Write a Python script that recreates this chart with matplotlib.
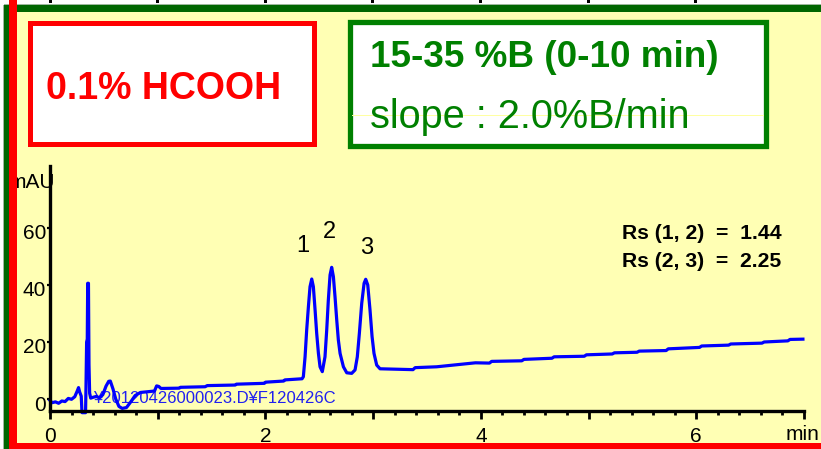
import matplotlib
matplotlib.use("Agg")
import numpy as np
import matplotlib.pyplot as plt
from matplotlib.patches import Rectangle
from matplotlib.lines import Line2D
from matplotlib.ticker import FixedLocator, MultipleLocator, FuncFormatter
import matplotlib.transforms as mtransforms

plt.rcParams['font.family'] = ['Liberation Sans', 'DejaVu Sans']

# ---- chromatogram (time in min, absorbance in mAU) ----
time_min = [
    0.00, 0.02, 0.05, 0.08, 0.11, 0.14, 0.17, 0.20, 0.23, 0.255, 0.265, 0.275,
    0.290, 0.297, 0.330, 0.334, 0.340, 0.346, 0.350, 0.357, 0.362, 0.368, 0.378,
    0.40, 0.43, 0.46, 0.49, 0.52, 0.545, 0.56, 0.585, 0.61, 0.64, 0.67, 0.71,
    0.75, 0.79, 0.84, 0.92, 0.97, 0.99, 1.01, 1.03, 1.20, 1.21, 1.44, 1.46,
    1.72, 1.73, 1.99, 2.00, 2.17, 2.18, 2.34,
    2.352, 2.368, 2.383, 2.399, 2.414, 2.430, 2.445, 2.461, 2.476, 2.492, 2.507,
    2.528, 2.553, 2.569, 2.584, 2.600, 2.615, 2.631, 2.646, 2.662, 2.677, 2.693,
    2.724, 2.755, 2.801, 2.832, 2.853, 2.872, 2.894, 2.916, 2.931, 2.950, 2.971,
    2.990, 3.008, 3.033, 3.064,
    3.37, 3.39, 3.59, 3.95, 4.08, 4.10, 4.38, 4.40, 4.66, 4.68, 4.96, 4.98,
    5.22, 5.24, 5.45, 5.47, 5.72, 5.74, 6.03, 6.05, 6.30, 6.32, 6.61, 6.63,
    6.85, 6.87, 6.99,
]
signal_mau = [
    -0.5, -1.3, -1.0, -1.5, -0.7, -0.9, 0.2, -0.1, 0.8, 3.0, 4.0, 2.5,
    1.0, -4.8, -4.8, 4.0, 20.0, 21.0, 40.6, 40.6, 12.0, 2.0, 0.3,
    0.6, 0.9, 0.4, 1.5, 4.5, 6.2, 6.3, 3.5, 0.0, -2.6, -3.3, -3.0,
    -1.0, 1.2, 2.3, 2.6, 2.8, 4.6, 4.4, 3.7, 3.8, 4.1, 4.3, 4.7,
    4.9, 5.2, 5.5, 5.9, 6.3, 6.7, 7.1,
    7.8, 14.8, 24.2, 32.4, 39.4, 42.1, 39.4, 31.2, 23.0, 16.0, 11.3,
    9.6, 14.8, 24.2, 34.7, 43.5, 46.2, 42.9, 35.9, 27.7, 20.7, 16.0,
    11.3, 9.2, 9.0, 10.2, 14.8, 23.0, 33.6, 40.6, 42.0, 40.0, 31.2,
    21.9, 16.0, 11.9, 10.6,
    10.3, 11.0, 11.3, 12.7, 12.6, 13.2, 13.4, 13.9, 14.3, 14.8, 15.0, 15.5,
    15.8, 16.2, 16.4, 16.8, 17.0, 17.6, 18.1, 18.6, 18.9, 19.3, 19.6, 20.0,
    20.4, 20.9, 21.0,
]

peak_ids = ["1", "2", "3"]
peak_apex_times = [2.430, 2.615, 2.931]

rs_pairs = ["(1, 2)", "(2, 3)"]
rs_values = [1.44, 2.25]

x_major_ticks = [0, 1, 2, 3, 4, 5, 6, 7]
y_ticks = [0, 20, 40, 60]
y_tick_labels = ["0", "20", "40", "60"]

mobile_phase = "0.1% HCOOH"
gradient_text = "15-35 %B (0-10 min)"
slope_text = "slope : 2.0%B/min"
data_file = "\u00a520120426000023.D\u00a5F120426C"

# ---- figure, laid out in pixels ----
W, H = 821, 449
fig = plt.figure(figsize=(W / 100, H / 100), dpi=100)
fig.patch.set_facecolor('#FFFFB4')


def fx(px):
    return px / W


def fy(py):
    return 1 - py / H


def band(x0, y0, x1, y1, color, z=1, **kw):
    r = Rectangle((fx(x0), fy(y1)), fx(x1) - fx(x0), fy(y0) - fy(y1),
                  transform=fig.transFigure, facecolor=color, edgecolor='none',
                  zorder=z, **kw)
    fig.add_artist(r)
    return r


# outer frame
band(0, 0, W, 4.5, 'white')
band(0, 4.0, W, 5.0, '#9DB89D')
band(3.5, 4.5, W, 12, '#006600')
band(0, 0, 3.5, H, 'white')
band(3, 4.5, 4, H, '#9DB89D')
band(3.5, 4.5, 9, H, '#006600')
band(9, 443, W, H, '#FF0000', z=5)
band(9, 0, 17, H, '#FF0000', z=5)
for xm in [50, 157, 265, 372, 480, 588, 695]:
    band(xm - 1.5, 0, xm + 1.5, 2.5, 'black')

# label boxes
red_box = Rectangle((fx(29.5), fy(143.5)), fx(313.5) - fx(29.5), fy(22.5) - fy(143.5),
                    transform=fig.transFigure, facecolor='white', edgecolor='#FF0000',
                    linewidth=3.6, zorder=2)
fig.add_artist(red_box)
green_box = Rectangle((fx(349.5), fy(145.5)), fx(765.5) - fx(349.5), fy(22.5) - fy(145.5),
                      transform=fig.transFigure, facecolor='white', edgecolor='#008000',
                      linewidth=3.8, zorder=2)
fig.add_artist(green_box)
fig.add_artist(Line2D([fx(352), fx(763)], [fy(114.5), fy(114.5)], transform=fig.transFigure,
                      color='#FFFFA0', linewidth=0.7, zorder=2.5))

fig.text(fx(164), fy(99), mobile_phase, ha='center', va='baseline', fontsize=27,
         fontweight='bold', color='#FF0000', zorder=3)
fig.text(fx(370), fy(66.7), gradient_text, ha='left', va='baseline', fontsize=26.6,
         fontweight='bold', color='#008000', zorder=3)
fig.text(fx(370), fy(128.3), slope_text, ha='left', va='baseline', fontsize=28.6,
         color='#008000', zorder=3)

# ---- chromatogram axes ----
ax = fig.add_axes([fx(50), fy(411), fx(804) - fx(50), fy(166) - fy(411)])
ax.set_facecolor('none')
ax.set_xlim(0, 7.0)
ax.set_ylim(-4.21, 81.75)
for side in ('top', 'right'):
    ax.spines[side].set_visible(False)
for side in ('left', 'bottom'):
    ax.spines[side].set_linewidth(2.4)
    ax.spines[side].set_color('black')
    ax.spines[side].set_zorder(3)

ax.text(fx(93), fy(398.5), data_file, transform=fig.transFigure, ha='left', va='center',
        fontsize=12, color='#2020F0', zorder=1)
ax.plot(time_min, signal_mau, color='#0000FF', linewidth=2.3, solid_joinstyle='round',
        clip_on=False, zorder=2)

peak_heights = np.interp(peak_apex_times, time_min, signal_mau)
label_offsets = [(-9, 33), (-2, 35), (1, 31)]
for pid, t, h, off in zip(peak_ids, peak_apex_times, peak_heights, label_offsets):
    ax.annotate(pid, xy=(t, h), xytext=off, textcoords='offset pixels',
                ha='center', va='center', fontsize=17, color='black')

ax.xaxis.set_major_locator(FixedLocator(x_major_ticks))
ax.xaxis.set_major_formatter(FuncFormatter(lambda v, p: f"{int(v)}" if int(v) % 2 == 0 and v < 7 else ""))
ax.xaxis.set_minor_locator(MultipleLocator(0.2))
ax.tick_params(axis='x', which='major', direction='out', length=5.8, width=2.0,
               pad=5.4, labelsize=15)
ax.tick_params(axis='x', which='minor', direction='out', length=3.2, width=2.0)

ax.yaxis.set_major_locator(FixedLocator(y_ticks))
ax.set_yticklabels(y_tick_labels)
ax.tick_params(axis='y', which='major', direction='out', length=2.2, width=1.6,
               pad=0.5, labelsize=15)
shift = mtransforms.ScaledTranslation(0, -4 / 100, fig.dpi_scale_trans)
for tick in ax.yaxis.get_major_ticks():
    tick.label1.set_transform(tick.label1.get_transform() + shift)

fig.text(fx(55), fy(182), "mAU", ha='right', va='center', fontsize=15, zorder=2)
fig.text(fx(786), fy(434), "min", ha='left', va='center', fontsize=15, zorder=2)

for i, (pair, val) in enumerate(zip(rs_pairs, rs_values)):
    fig.text(fx(622), fy(233.3 + 28.4 * i), f"Rs {pair}  =  {val:.2f}", ha='left',
             va='center', fontsize=15.2, fontweight='bold', color='black', zorder=3)

fig.savefig("out.png", dpi=100, facecolor=fig.get_facecolor())
